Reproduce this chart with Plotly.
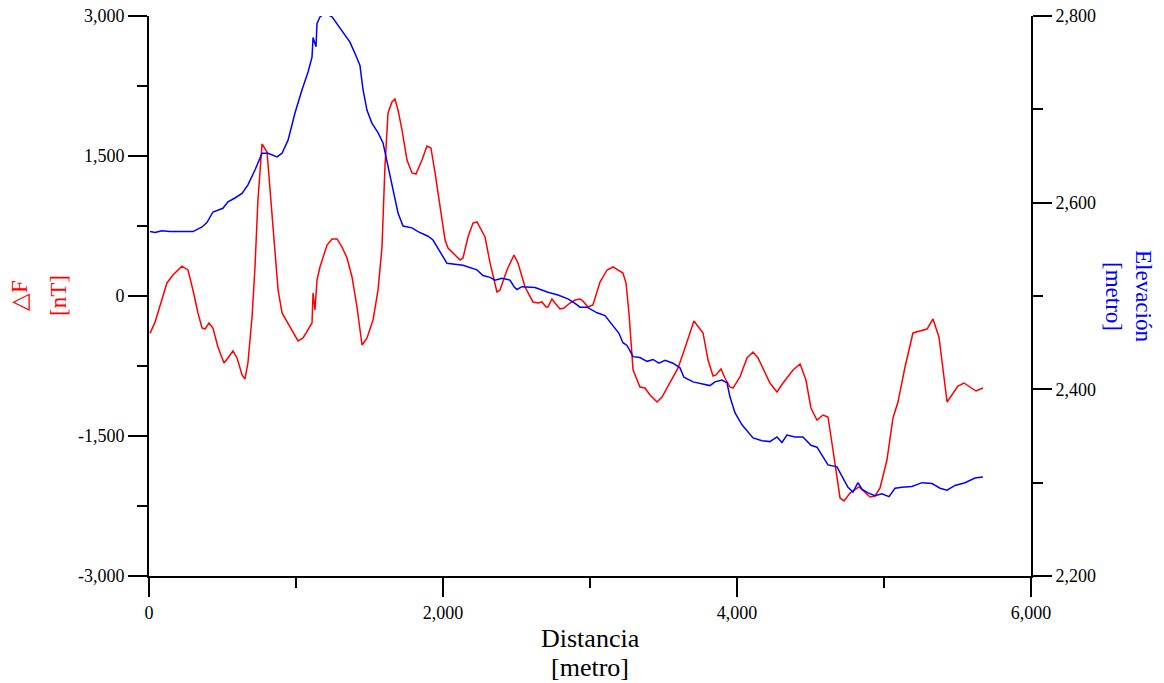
import plotly.graph_objects as go

# Distancia [metro] vs ΔF [nT]
dist_f = [7, 41, 122, 163, 224, 265, 299, 333, 361, 381, 408, 435, 469, 510, 537, 571, 599, 633, 653, 673,
          701, 721, 741, 769, 803, 823, 844, 878, 905, 973, 1014, 1048, 1082, 1109, 1116, 1129, 1143, 1163,
          1211, 1245, 1279, 1313, 1347, 1381, 1415, 1449, 1483, 1524, 1558, 1585, 1605, 1626, 1653, 1673,
          1694, 1721, 1755, 1789, 1816, 1857, 1891, 1918, 1946, 1980, 2014, 2034, 2082, 2116, 2136, 2170,
          2204, 2231, 2286, 2320, 2367, 2388, 2435, 2483, 2510, 2558, 2612, 2646, 2673, 2701, 2714, 2741,
          2762, 2796, 2823, 2864, 2898, 2932, 2952, 2986, 3020, 3068, 3116, 3157, 3224, 3245, 3265, 3293,
          3340, 3374, 3408, 3456, 3490, 3544, 3599, 3646, 3707, 3769, 3803, 3837, 3857, 3891, 3918, 3952,
          3973, 4020, 4068, 4109, 4143, 4224, 4272, 4313, 4381, 4429, 4469, 4503, 4544, 4585, 4619, 4653,
          4701, 4728, 4769, 4830, 4871, 4905, 4939, 4973, 5020, 5061, 5095, 5143, 5197, 5245, 5293, 5333,
          5374, 5429, 5469, 5503, 5544, 5585, 5626, 5673]
delta_f = [-400, -280, 140, 225, 320, 280, 64, -182, -343, -354, -289, -343, -546, -718, -664, -589, -664, -846, -889, -718,
           -225, 311, 1029, 1629, 1543, 1136, 675, 64, -182, -364, -482, -450, -364, -289, 32, -150, 171, 311,
           546, 611, 611, 525, 407, 204, -118, -525, -450, -257, 64, 525, 1382, 1961, 2079, 2111,
           1993, 1779, 1457, 1318, 1307, 1457, 1607, 1586, 1318, 954, 600, 514, 439, 386, 407, 632,
           782, 793, 632, 354, 43, 64, 279, 439, 354, 96, -64, -75, -64, -118, -118, -32,
           -75, -139, -129, -75, -43, -32, -54, -118, -96, 150, 279, 311, 246, 139, -182, -793,
           -975, -986, -1061, -1136, -1082, -932, -771, -557, -268, -396, -686, -857, -846, -782, -879, -975,
           -986, -868, -664, -600, -664, -932, -1029, -932, -793, -729, -900, -1200, -1329, -1275, -1296, -1650,
           -2164, -2196, -2111, -2046, -2100, -2154, -2143, -2057, -1757, -1307, -1136, -761, -396, -375, -354, -246,
           -439, -1136, -1039, -964, -932, -975, -1018, -986]

# Distancia [metro] vs Elevación [metro]
dist_e = [7, 41, 88, 143, 299, 361, 395, 435, 503, 537, 585, 633, 673, 721, 769, 810, 871, 905, 946, 993,
          1041, 1082, 1109, 1116, 1136, 1143, 1163, 1197, 1245, 1320, 1367, 1401, 1435, 1456, 1483, 1517,
          1558, 1592, 1626, 1660, 1694, 1728, 1789, 1830, 1898, 1932, 1980, 2027, 2136, 2231, 2272, 2320,
          2354, 2401, 2456, 2483, 2503, 2537, 2626, 2714, 2782, 2850, 2898, 2932, 2980, 3048, 3102, 3150,
          3197, 3224, 3252, 3293, 3340, 3388, 3429, 3469, 3510, 3565, 3612, 3639, 3701, 3816, 3850, 3898,
          3932, 3952, 3986, 4034, 4109, 4170, 4224, 4272, 4306, 4340, 4395, 4449, 4503, 4544, 4585, 4619,
          4680, 4721, 4755, 4789, 4823, 4850, 4891, 4939, 4986, 5034, 5075, 5122, 5190, 5259, 5327, 5381,
          5429, 5483, 5551, 5619, 5673]
elevacion = [2569, 2568, 2570, 2569, 2569, 2574, 2579, 2590, 2594, 2601, 2605, 2610, 2619, 2635, 2653, 2653, 2649, 2653, 2667, 2696,
             2721, 2740, 2756, 2777, 2767, 2792, 2799, 2803, 2799, 2783, 2772, 2760, 2747, 2721, 2699, 2685,
             2675, 2664, 2638, 2614, 2589, 2575, 2573, 2569, 2564, 2560, 2547, 2535, 2533, 2528, 2522, 2520,
             2517, 2519, 2517, 2510, 2507, 2510, 2509, 2504, 2501, 2497, 2492, 2488, 2488, 2482, 2479, 2470,
             2460, 2450, 2447, 2435, 2434, 2430, 2432, 2428, 2431, 2428, 2423, 2413, 2408, 2404, 2408, 2410,
             2407, 2392, 2375, 2362, 2348, 2345, 2344, 2349, 2343, 2351, 2349, 2349, 2340, 2338, 2328, 2319,
             2317, 2305, 2295, 2290, 2300, 2293, 2289, 2286, 2288, 2285, 2294, 2295, 2296, 2300, 2299, 2294,
             2292, 2297, 2300, 2305, 2306]

x_ticks = [0, 2000, 4000, 6000]
x_ticktext = ["0", "2,000", "4,000", "6,000"]
x_minor = [1000, 3000, 5000]
yl_ticks = [-3000, -1500, 0, 1500, 3000]
yl_ticktext = ["-3,000", "-1,500", "0", "1,500", "3,000"]
yl_minor = [-2250, -750, 750, 2250]
yr_ticks = [2200, 2400, 2600, 2800]
yr_ticktext = ["2,200", "2,400", "2,600", "2,800"]
yr_minor = [2300, 2500, 2700]

FONT = "Liberation Serif"
TICKFONT = dict(family=FONT, size=18, color="black")

fig = go.Figure()
fig.add_trace(go.Scatter(x=dist_f, y=delta_f, mode="lines", cliponaxis=False,
                         line=dict(color="#ff0000", width=1.5), yaxis="y"))
fig.add_trace(go.Scatter(x=dist_e, y=elevacion, mode="lines", cliponaxis=False,
                         line=dict(color="#0000ff", width=1.5), yaxis="y2"))

axis_common = dict(showline=True, linecolor="black", linewidth=2, ticks="outside",
                   ticklen=19, tickwidth=2, tickcolor="black", showgrid=False,
                   zeroline=False, tickfont=TICKFONT, fixedrange=True, automargin=False)

fig.update_layout(
    width=1164, height=683, autosize=False,
    margin=dict(l=149, r=133, t=16, b=107),
    paper_bgcolor="white", plot_bgcolor="white",
    showlegend=False,
    xaxis=dict(range=[0, 6000], tickmode="array", tickvals=x_ticks, ticktext=x_ticktext,
               minor=dict(tickmode="array", tickvals=x_minor, ticklen=10, tickwidth=2,
                          tickcolor="black", ticks="outside"),
               **axis_common),
    yaxis=dict(range=[-3000, 3000], tickmode="array", tickvals=yl_ticks, ticktext=yl_ticktext,
               minor=dict(tickmode="array", tickvals=yl_minor, ticklen=10, tickwidth=2,
                          tickcolor="black", ticks="outside"),
               **axis_common),
    yaxis2=dict(range=[2200, 2800], overlaying="y", side="right", anchor="x",
                tickmode="array", tickvals=yr_ticks, ticktext=yr_ticktext,
                minor=dict(tickmode="array", tickvals=yr_minor, ticklen=10, tickwidth=2,
                           tickcolor="black", ticks="outside"),
                **axis_common),
)

ann = [
    dict(text="Distancia", x=0.5, y=0, xref="paper", yref="paper", xanchor="center", yanchor="middle",
         yshift=-62, font=dict(family=FONT, size=26, color="black")),
    dict(text="[metro]", x=0.5, y=0, xref="paper", yref="paper", xanchor="center", yanchor="middle",
         yshift=-91, font=dict(family=FONT, size=26, color="black")),
    dict(text="△F", x=0, y=0.5, xref="paper", yref="paper", xanchor="center", yanchor="middle",
         xshift=-130, textangle=-90, font=dict(family=FONT, size=23, color="#ff0000")),
    dict(text="[nT]", x=0, y=0.5, xref="paper", yref="paper", xanchor="center", yanchor="middle",
         xshift=-91, textangle=-90, font=dict(family=FONT, size=23, color="#ff0000")),
    dict(text="Elevación", x=1, y=0.5, xref="paper", yref="paper", xanchor="center", yanchor="middle",
         xshift=113, textangle=90, font=dict(family=FONT, size=23, color="#0000ff")),
    dict(text="[metro]", x=1, y=0.5, xref="paper", yref="paper", xanchor="center", yanchor="middle",
         xshift=83, textangle=90, font=dict(family=FONT, size=23, color="#0000ff")),
]
for a in ann:
    a["showarrow"] = False
    fig.add_annotation(**a)

fig.write_html("out.html", config={"displayModeBar": False},
               post_script="document.body.style.margin='0';document.body.style.overflow='hidden';")
